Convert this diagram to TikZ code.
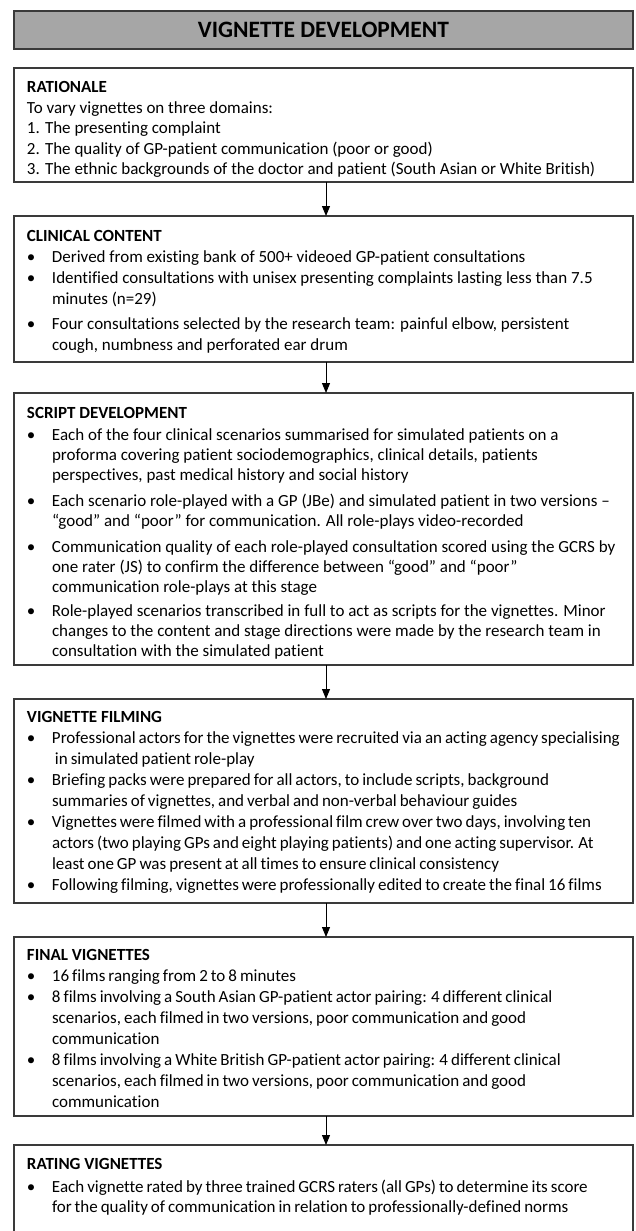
\documentclass[tikz,border=0pt]{standalone}
\usepackage{fontspec}
\setmainfont{Carlito}[Ligatures=NoCommon]
\usetikzlibrary{arrows.meta}
\definecolor{titlegray}{HTML}{A6A6A6}
\definecolor{edgegray}{HTML}{3A3A3A}
\newcommand\bul{\makebox[25pt][l]{\textbullet}}
\newcommand\ind{\hspace*{25pt}}
\tikzset{
  box/.style={draw=edgegray, line width=1.1pt, minimum width=619pt, inner sep=0pt, outer sep=0pt},
  txt/.style={inner sep=0pt, outer sep=0pt, align=left, anchor=north west},
  flow/.style={-{Triangle[width=8pt,length=10pt]}, line width=1pt, black},
}
\begin{document}
\begin{tikzpicture}[x=1pt,y=-1pt]
\useasboundingbox (0,0) rectangle (635,1231);
\clip (0,0) rectangle (635,1231);
\fill[white] (0,0) rectangle (635,1231);

% title
\node[box, fill=titlegray, minimum height=38pt, anchor=north, font=\fontsize{23.5}{28}\selectfont\bfseries] (title) at (323.5,11) {VIGNETTE DEVELOPMENT};

% boxes
\node[box, minimum height=114pt, anchor=north] (rat) at (323.5,68) {};
\node[box, minimum height=146pt, anchor=north] (cli) at (323.5,216) {};
\node[box, minimum height=272pt, anchor=north] (scr) at (323.5,393) {};
\node[box, minimum height=204pt, anchor=north] (fil) at (323.5,699) {};
\node[box, minimum height=179pt, anchor=north] (fin) at (323.5,937) {};
\node[box, minimum height=120pt, anchor=north] (rtg) at (323.5,1145) {};

% texts
\node[txt, font=\fontsize{17}{20.5}\selectfont] (ratT) at (27,81.6) {\textbf{RATIONALE}\\
To vary vignettes on three domains:\\
1. The presenting complaint\\
2. The quality of GP-patient communication (poor or good)\\
3. The ethnic backgrounds of the doctor and patient (South Asian or White British)};

\node[txt, font=\fontsize{17}{21}\selectfont] (cliT) at (27,230.6) {\textbf{CLINICAL CONTENT}\\
\bul Derived from existing bank of 500+ videoed GP-patient consultations\\
\bul Identified consultations with unisex presenting complaints lasting less than 7.5\\
\ind minutes (n=29)\\[4pt]
\bul Four consultations selected by the research team: painful elbow, persistent\\
\ind cough, numbness and perforated ear drum};

\node[txt, font=\fontsize{17}{20}\selectfont] (scrT) at (27,407.6) {\textbf{SCRIPT DEVELOPMENT}\\[2pt]
\bul Each of the four clinical scenarios summarised for simulated patients on a\\
\ind proforma covering patient sociodemographics, clinical details, patients\\
\ind perspectives, past medical history and social history\\[6pt]
\bul Each scenario role-played with a GP (JBe) and simulated patient in two versions –\\
\ind “good” and “poor” for communication. All role-plays video-recorded\\[6pt]
\bul Communication quality of each role-played consultation scored using the GCRS by\\
\ind one rater (JS) to confirm the difference between “good” and “poor”\\
\ind communication role-plays at this stage\\[4pt]
\bul Role-played scenarios transcribed in full to act as scripts for the vignettes. Minor\\
\ind changes to the content and stage directions were made by the research team in\\
\ind consultation with the simulated patient};

\node[txt, font=\fontsize{17}{21}\selectfont] (filT) at (27,711.6) {\textbf{VIGNETTE FILMING}\\
\bul {\fontdimen2\font=3pt Professional actors for the vignettes were recruited via an acting agency specialising}\\
\ind\hspace*{3pt}in simulated patient role-play\\
\bul Briefing packs were prepared for all actors, to include scripts, background\\
\ind summaries of vignettes, and verbal and non-verbal behaviour guides\\
\bul Vignettes were filmed with a professional film crew over two days, involving ten\\
\ind actors (two playing GPs and eight playing patients) and one acting supervisor. At\\
\ind least one GP was present at all times to ensure clinical consistency\\
\bul Following filming, vignettes were professionally edited to create the final 16 films};

\node[txt, font=\fontsize{17}{21}\selectfont] (finT) at (27,949.6) {\textbf{FINAL VIGNETTES}\\
\bul 16 films ranging from 2 to 8 minutes\\
\bul 8 films involving a South Asian GP-patient actor pairing: 4 different clinical\\
\ind scenarios, each filmed in two versions, poor communication and good\\
\ind communication\\
\bul 8 films involving a White British GP-patient actor pairing: 4 different clinical\\
\ind scenarios, each filmed in two versions, poor communication and good\\
\ind communication};

\node[txt, font=\fontsize{17}{20}\selectfont] (rtgT) at (27,1158.6) {\textbf{RATING VIGNETTES}\\[3pt]
\bul Each vignette rated by three trained GCRS raters (all GPs) to determine its score\\
\ind for the quality of communication in relation to professionally-defined norms};

% arrows
\draw[flow] ([xshift=2.5pt]rat.south) -- ([xshift=2.5pt]cli.north);
\draw[flow] ([xshift=2.5pt]cli.south) -- ([xshift=2.5pt]scr.north);
\draw[flow] ([xshift=2.5pt]scr.south) -- ([xshift=2.5pt]fil.north);
\draw[flow] ([xshift=2.5pt]fil.south) -- ([xshift=2.5pt]fin.north);
\draw[flow] ([xshift=2.5pt]fin.south) -- ([xshift=2.5pt]rtg.north);
\end{tikzpicture}
\end{document}
